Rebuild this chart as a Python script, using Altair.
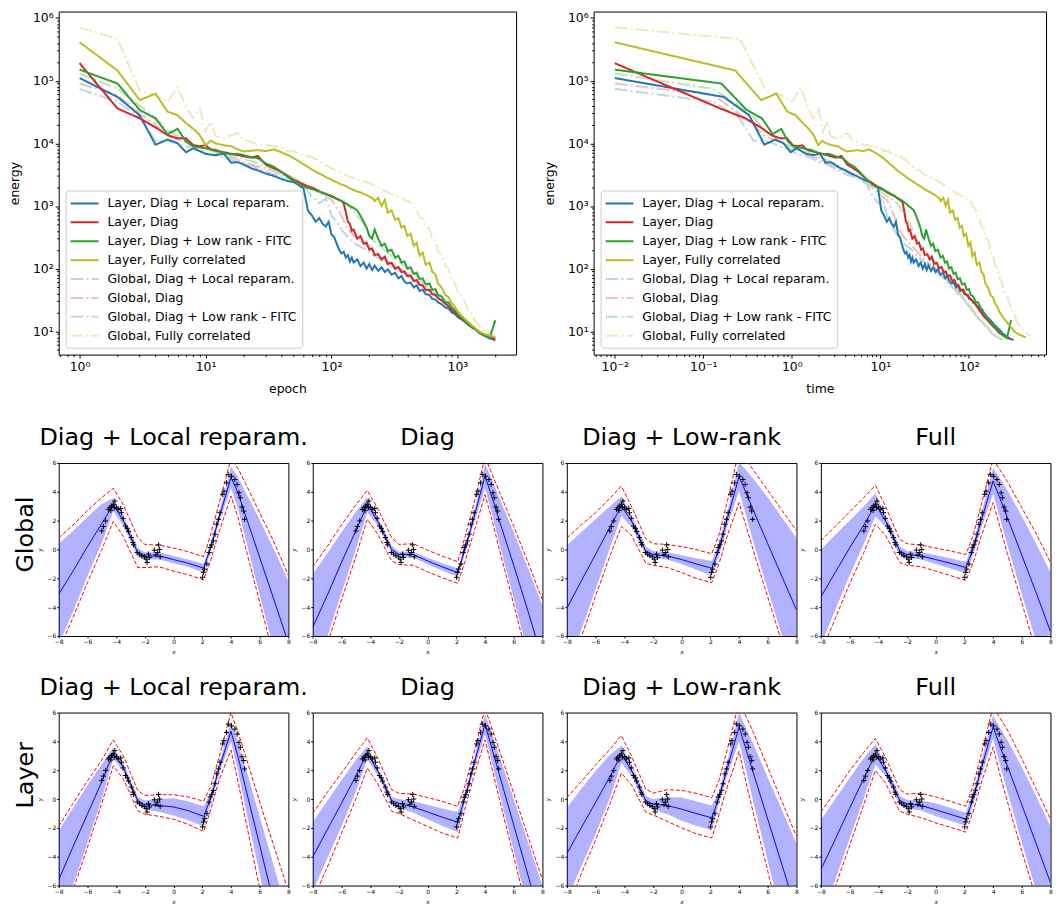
import altair as alt
import pandas as pd

FONT = "DejaVu Sans"

# ---------------- top panels: energy curves ----------------
EPOCHS = [1, 2, 3, 4, 5, 6, 7, 8, 9, 10,
          11, 12, 14, 16, 18, 20, 23, 26, 30, 35,
          40, 45, 50, 55, 60, 65, 70, 75, 80, 85,
          90, 95, 100, 105, 110, 115, 120, 125, 130, 135,
          140, 145, 150, 160, 170, 180, 190, 200, 210, 220,
          235, 250, 265, 280, 300, 320, 340, 360, 380, 400,
          425, 450, 475, 500, 530, 560, 600, 630, 670, 700,
          750, 800, 850, 900, 950, 1000, 1100, 1200, 1300, 1400,
          1500, 1650, 1800, 2000]

E_LAYER_LOCAL = [110000, 55000, 28000, 9500, 11500, 10000, 7200, 8300, 7500, 6800,
                 6600, 6500, 6800, 4900, 5000, 4600, 4000, 3700, 3300, 3000,
                 2700, 2500, 2400, 2150, 1900, 850, 700, 560, 640, 520,
                 470, 560, 350, 320, 250, 200, 175, 185, 150, 165,
                 130, 150, 125, 140, 110, 125, 100, 118, 95, 112,
                 92, 105, 88, 97, 80, 86, 70, 76, 62, 58,
                 60, 50, 54, 44, 46, 39, 38, 33, 32, 29,
                 27, 24, 23, 20, 19, 17, 15, 13, 11.5, 10.5,
                 9.3, 8.4, 7.7, 7.2]
E_LAYER_DIAG = [190000, 36000, 25000, 18000, 13500, 12000, 12000, 9300, 9000, 9300,
                8000, 7600, 7200, 6800, 6500, 6200, 5900, 6300, 4600, 4000,
                3500, 3000, 2600, 2400, 2200, 2050, 1950, 1850, 1700, 1620,
                1550, 1500, 1450, 1380, 1300, 1250, 1200, 1100, 800, 560,
                520, 400, 420, 300, 330, 250, 260, 200, 210, 165,
                170, 140, 155, 118, 124, 100, 106, 88, 90, 76,
                78, 63, 66, 55, 54, 45, 46, 39, 38, 34,
                31, 28, 25, 22, 20, 18, 15.5, 13.5, 12, 10.8,
                9.6, 8.7, 8.0, 7.6]
E_LAYER_FITC = [150000, 90000, 34000, 25000, 14000, 17000, 10600, 8900, 8600, 8300,
                8000, 7900, 7000, 6700, 6800, 6500, 6000, 5800, 4800, 4200,
                3500, 2900, 2500, 2200, 2050, 1950, 1850, 1780, 1700, 1620,
                1550, 1480, 1400, 1350, 1300, 1250, 1200, 1150, 1100, 1050,
                1000, 960, 930, 850, 700, 560, 450, 330, 300, 420,
                300, 230, 250, 190, 200, 150, 160, 125, 130, 100,
                105, 82, 86, 68, 70, 56, 58, 46, 47, 38,
                36, 29, 29, 24, 22, 19, 16, 13.5, 12, 10.8,
                9.6, 8.6, 7.8, 15]
E_LAYER_FULL = [410000, 145000, 49000, 62000, 32000, 28000, 21000, 17000, 13500, 9300,
                11000, 10000, 9300, 9000, 8000, 7400, 7600, 7800, 7500, 8000,
                7200, 6500, 5800, 5200, 4600, 4200, 3800, 3500, 3300, 3100,
                2900, 2750, 2600, 2500, 2400, 2300, 2200, 2150, 2050, 2000,
                1900, 1850, 1800, 1700, 1650, 1550, 1500, 1400, 1350, 1200,
                1350, 1000, 1250, 780, 850, 600, 640, 450, 480, 330,
                360, 230, 260, 160, 180, 115, 125, 90, 80, 58,
                50, 38, 35, 28, 25, 21, 17, 14.5, 12.5, 11,
                9.8, 9.0, 8.5, 8.0]
E_GLOBAL_LOCAL = [74000, 46000, 26000, 11000, 11000, 10000, 9000, 8500, 8000, 7000,
                  6600, 6400, 6000, 5500, 5000, 4800, 4400, 4000, 3600, 3200,
                  3000, 2800, 2600, 2400, 2200, 1700, 1400, 1250, 1100, 1200,
                  1300, 1000, 700, 620, 560, 480, 420, 380, 350, 320,
                  300, 280, 260, 240, 225, 210, 200, 185, 170, 160,
                  148, 135, 125, 118, 108, 100, 94, 88, 82, 77,
                  72, 66, 61, 57, 52, 48, 44, 40, 37, 34,
                  30, 27, 24.5, 22, 20, 18, 15.5, 13.5, 12, 10.8,
                  9.3, 8.5, 7.8, 7.2]
E_GLOBAL_DIAG = [90000, 59000, 30000, 20000, 13000, 11500, 10500, 9500, 9000, 8300,
                 7800, 7200, 6500, 6000, 5500, 5000, 4600, 4300, 4000, 3600,
                 3200, 3000, 2800, 2500, 2300, 2100, 1900, 1750, 1600, 1500,
                 1400, 1320, 1250, 1100, 950, 820, 700, 580, 480, 430,
                 400, 370, 340, 300, 270, 250, 230, 215, 200, 185,
                 165, 150, 140, 130, 120, 110, 102, 95, 88, 82,
                 76, 70, 65, 60, 55, 50, 46, 42, 38, 35,
                 31, 28, 25, 22, 20, 18, 15.5, 13.5, 12, 10.8,
                 9.5, 8.6, 7.9, 7.4]
E_GLOBAL_FITC = [130000, 74000, 40000, 26000, 16000, 13000, 11000, 9500, 9000, 8500,
                 8000, 7500, 7000, 6500, 6000, 5700, 5200, 4800, 4300, 3800,
                 3400, 3100, 2800, 2500, 2300, 2100, 2000, 1900, 1800, 1700,
                 1600, 1520, 1450, 1380, 1300, 1250, 1200, 1150, 1100, 1020,
                 950, 870, 800, 700, 600, 520, 450, 340, 300, 270,
                 240, 215, 195, 180, 160, 145, 132, 120, 110, 100,
                 91, 82, 75, 68, 61, 55, 50, 45, 41, 37,
                 33, 29, 26, 23, 21, 19, 16, 14, 12.2, 10.9,
                 9.5, 8.6, 7.9, 7.4]
E_GLOBAL_FULL = [710000, 460000, 70000, 59000, 46000, 79000, 38000, 25000, 36000, 15500,
                 22000, 13000, 12000, 13500, 14500, 11500, 10500, 9500, 9300, 9000,
                 8500, 7500, 7500, 6800, 6500, 6200, 6000, 5600, 5200, 4800,
                 4500, 4200, 4000, 3850, 3700, 3550, 3400, 3250, 3100, 3000,
                 2900, 2850, 2800, 2700, 2600, 2500, 2400, 2300, 2200, 2100,
                 2000, 1800, 1750, 1650, 1550, 1500, 1400, 1350, 1250, 1200,
                 1150, 950, 900, 650, 640, 460, 430, 300, 280, 190,
                 165, 110, 100, 66, 60, 43, 35, 23, 19, 14,
                 12, 10, 9.2, 8.5]

SERIES = ["Layer, Diag + Local reparam.", "Layer, Diag",
          "Layer, Diag + Low rank - FITC", "Layer, Fully correlated",
          "Global, Diag + Local reparam.", "Global, Diag",
          "Global, Diag + Low rank - FITC", "Global, Fully correlated"]
ENERGY = [E_LAYER_LOCAL, E_LAYER_DIAG, E_LAYER_FITC, E_LAYER_FULL,
          E_GLOBAL_LOCAL, E_GLOBAL_DIAG, E_GLOBAL_FITC, E_GLOBAL_FULL]
# tab colours; the "Global" runs are drawn at 30 % opacity on white
COLORS = ["#1f77b4", "#d62728", "#2ca02c", "#bcbd22",
          "#bcd6e8", "#f3bebe", "#c0e2c0", "#ebebbd"]
# wall-clock seconds per epoch of each run, and time of the first record
SEC_PER_EPOCH = [0.16, 0.145, 0.15, 0.22, 0.12, 0.12, 0.12, 0.25]
T0 = 0.01

rows = []
# faint "Global" runs first so that they sit underneath
for idx in [4, 5, 6, 7, 0, 1, 2, 3]:
    name, vals, rate = SERIES[idx], ENERGY[idx], SEC_PER_EPOCH[idx]
    for ep, e in zip(EPOCHS, vals):
        rows.append({"series": name, "epoch": ep, "time": T0 + rate * (ep - 1), "energy": e})
top_df = pd.DataFrame(rows)

SOLID = [1, 0]
DASHDOT = [12.8, 3.2, 2, 3.2]


def log_ticks(lo, hi):
    out = []
    for k in range(-3, 7):
        for m in range(1, 10):
            v = m * 10.0 ** k
            if lo <= v <= hi:
                out.append(v)
    return out


LOGV = "(log(datum.value)/LN10)"
MAJOR = f"abs({LOGV} - round({LOGV})) < 0.001"
SUP = "['\u207b\u00b2','\u207b\u00b9','\u2070','\u00b9','\u00b2','\u00b3','\u2074','\u2075','\u2076']"
LABEL_EXPR = f"{MAJOR} ? '10' + {SUP}[round({LOGV}) + 2] : ''"
TICK_SIZE = {"condition": {"test": f"!({MAJOR})", "value": 2}, "value": 3.5}

Y_DOM = [4.24, 1.268e6]


def log_axis(title, lo, hi, **kw):
    return alt.Axis(title=title, values=log_ticks(lo, hi), labelExpr=LABEL_EXPR,
                    tickSize=TICK_SIZE, labelFontSize=12.5, titleFontSize=12.5,
                    labelOverlap=False, labelFlush=False, labelPadding=2, **kw)


def energy_chart(xfield, xtitle, xdom):
    return alt.Chart(top_df).mark_line(strokeWidth=2).encode(
        x=alt.X(f"{xfield}:Q",
                scale=alt.Scale(type="log", domain=xdom, nice=False),
                axis=log_axis(xtitle, xdom[0], xdom[1], titleY=38, titleBaseline="alphabetic")),
        y=alt.Y("energy:Q",
                scale=alt.Scale(type="log", domain=Y_DOM, nice=False),
                axis=log_axis("energy", Y_DOM[0], Y_DOM[1], titleX=-44, titleBaseline="middle")),
        color=alt.Color("series:N", scale=alt.Scale(domain=SERIES, range=COLORS),
                        legend=alt.Legend(orient="bottom-left", offset=7, title=None,
                                          labelFontSize=12.5, labelFont=FONT, labelColor="black",
                                          symbolType="M-2,0L2,0", symbolSize=196, symbolStrokeWidth=2,
                                          symbolOffset=6, labelOffset=15, padding=5, rowPadding=4,
                                          strokeColor="#cccccc", fillColor="rgba(255,255,255,0.8)",
                                          cornerRadius=3, labelLimit=400)),
        strokeDash=alt.StrokeDash("series:N", scale=alt.Scale(domain=SERIES, range=[SOLID] * 4 + [DASHDOT] * 4)),
    )


left = energy_chart("epoch", "epoch", [0.6825, 2923]).properties(width=460, height=345)
right = energy_chart("time", "time", [0.00577, 746]).properties(width=455, height=345)
top_row = alt.hconcat(left, right, spacing=78, bounds="flush").resolve_scale(
    color="independent", strokeDash="independent")

# ---------------- bottom panels: regression fits ----------------
GRID_X = [-8, -7, -6, -5, -4.2, -3.5, -2.5, -2, -1, 0, 1, 2.1, 2.6, 3.2, 4.0, 4.5, 5, 6, 7, 8]

G_LOCAL_MEAN = [-3.1, -1.5, 0.2, 1.8, 3.1, 2.0, -0.2, -0.45, -0.45, -0.7, -0.95, -1.3, 0.2, 2.3, 5.0, 3.9, 2.4, -0.55, -3.5, -6.5]
G_LOCAL_BAND = [3.5, 2.8, 2.05, 1.35, 0.45, 0.35, 0.3, 0.25, 0.25, 0.25, 0.25, 0.3, 0.3, 0.35, 0.75, 1.1, 1.6, 2.6, 3.5, 4.3]
G_LOCAL_RED = [3.9, 3.2, 2.5, 1.8, 1.15, 1.1, 1.05, 0.8, 0.75, 0.8, 0.8, 0.8, 0.9, 1.0, 1.3, 1.7, 2.2, 3.1, 4.0, 4.7]

G_DIAG_MEAN = [-5.4, -3.2, -0.9, 1.3, 3.1, 2.0, 0.0, -0.35, -0.35, -0.8, -1.2, -1.6, 0.0, 2.1, 5.1, 3.6, 2.0, -1.1, -4.3, -7.6]
G_DIAG_BAND = [3.7, 2.9, 2.1, 1.3, 0.5, 0.3, 0.25, 0.2, 0.2, 0.22, 0.25, 0.3, 0.3, 0.35, 0.85, 1.2, 1.6, 2.3, 3.0, 3.7]
G_DIAG_RED = [4.2, 3.4, 2.6, 1.8, 1.0, 0.9, 0.8, 0.7, 0.75, 0.75, 0.75, 0.75, 0.85, 1.0, 1.3, 1.6, 2.0, 2.7, 3.4, 4.1]

G_FITC_MEAN = [-4.1, -2.2, -0.35, 1.55, 3.0, 2.0, -0.1, -0.35, -0.45, -0.7, -1.0, -1.3, 0.0, 2.2, 5.05, 3.9, 2.7, 0.4, -1.9, -4.2]
G_FITC_BAND = [4.4, 3.4, 2.45, 1.45, 0.7, 0.4, 0.3, 0.25, 0.25, 0.3, 0.4, 0.5, 0.45, 0.5, 1.0, 1.6, 2.2, 3.2, 4.1, 5.0]
G_FITC_RED = [4.9, 3.9, 2.9, 2.0, 1.4, 1.0, 0.85, 0.75, 0.8, 0.9, 1.0, 1.0, 1.0, 1.2, 1.8, 2.3, 2.8, 3.7, 4.6, 5.5]

G_FULL_MEAN = [-3.3, -1.6, 0.1, 1.7, 3.1, 2.0, -0.1, -0.35, -0.45, -0.7, -0.95, -1.25, 0.0, 2.1, 4.75, 3.5, 2.2, -0.4, -3.0, -5.7]
G_FULL_BAND = [3.3, 2.6, 1.9, 1.3, 0.8, 0.4, 0.3, 0.25, 0.25, 0.3, 0.35, 0.4, 0.4, 0.5, 0.9, 1.4, 1.9, 2.7, 3.4, 4.1]
G_FULL_RED = [3.9, 3.2, 2.5, 1.9, 1.35, 1.0, 0.8, 0.75, 0.75, 0.8, 0.85, 0.9, 0.95, 1.1, 1.5, 2.0, 2.5, 3.3, 4.1, 4.8]

L_LOCAL_MEAN = [-5.6, -3.3, -1.05, 1.2, 3.2, 2.2, -0.1, -0.4, -0.45, -0.55, -0.8, -1.2, 0.1, 2.2, 4.7, 2.9, 0.85, -3.2, -7.3, -11.4]
L_LOCAL_BAND = [3.4, 2.7, 2.0, 1.2, 0.4, 0.3, 0.25, 0.3, 0.45, 0.6, 0.65, 0.7, 0.35, 0.35, 0.7, 1.0, 1.4, 2.0, 2.6, 3.2]
L_LOCAL_RED = [3.7, 3.0, 2.3, 1.5, 0.9, 0.8, 0.7, 0.65, 0.75, 0.85, 0.95, 1.05, 0.8, 0.8, 1.3, 1.7, 2.2, 3.0, 4.0, 5.0]

L_DIAG_MEAN = [-4.0, -2.15, -0.3, 1.6, 3.2, 2.0, -0.1, -0.3, -0.55, -0.9, -1.25, -1.6, 0.1, 2.3, 5.2, 3.45, 1.7, -1.8, -5.3, -8.8]
L_DIAG_BAND = [2.4, 2.0, 1.6, 1.1, 0.45, 0.3, 0.25, 0.3, 0.4, 0.5, 0.6, 0.7, 0.35, 0.35, 0.7, 1.0, 1.3, 1.8, 2.3, 2.8]
L_DIAG_RED = [3.0, 2.6, 2.1, 1.6, 1.05, 0.9, 0.75, 0.7, 0.9, 1.0, 1.1, 1.1, 0.8, 0.8, 1.1, 1.4, 1.7, 2.2, 2.7, 3.2]

L_FITC_MEAN = [-3.8, -2.0, -0.25, 1.55, 3.1, 2.0, -0.1, -0.35, -0.45, -0.7, -1.0, -1.3, 0.1, 2.2, 5.0, 3.4, 1.8, -1.4, -4.6, -7.8]
L_FITC_BAND = [3.2, 2.7, 2.2, 1.5, 0.6, 0.4, 0.3, 0.35, 0.6, 0.8, 0.85, 0.85, 0.4, 0.5, 1.0, 1.5, 2.0, 2.9, 3.8, 4.7]
L_FITC_RED = [3.9, 3.2, 2.6, 1.9, 1.3, 1.0, 0.8, 0.75, 1.1, 1.3, 1.4, 1.4, 1.2, 1.3, 1.7, 2.3, 2.8, 3.6, 4.4, 5.2]

L_FULL_MEAN = [-4.9, -2.8, -0.65, 1.45, 3.1, 2.0, -0.1, -0.35, -0.45, -0.75, -1.05, -1.4, 0.0, 2.2, 5.0, 3.6, 2.3, -0.4, -3.1, -5.8]
L_FULL_BAND = [3.45, 2.8, 2.1, 1.4, 0.7, 0.4, 0.3, 0.3, 0.35, 0.45, 0.45, 0.45, 0.4, 0.5, 0.8, 1.3, 1.8, 2.6, 3.3, 3.9]
L_FULL_RED = [4.0, 3.3, 2.6, 1.8, 1.1, 0.9, 0.75, 0.7, 0.85, 0.9, 0.9, 0.9, 0.9, 1.0, 1.4, 2.0, 2.5, 3.2, 3.8, 4.4]

PTS_X = [-5.0, -4.89, -4.73, -4.54, -4.43, -4.32, -4.36, -4.2, -4.09, -4.13, -3.97, -3.86, -3.68, -3.63,
         -3.51, -3.35, -3.22, -3.13, -2.94, -2.83, -2.78, -2.53, -2.37, -2.21, -2.03, -1.91, -1.84,
         -1.75, -1.68, -1.34, -1.23, -1.11, -1.04, -0.97, -0.93,
         2.02, 2.09, 2.16, 2.32, 2.48, 2.55, 2.66, 2.78, 2.89, 3.01, 3.12, 3.24, 3.42, 3.51, 3.69,
         3.81, 4.04, 4.27, 4.43, 4.56, 4.65, 4.77, 4.88, 4.95]
PTS_Y = [1.29, 1.59, 1.98, 2.78, 2.90, 3.01, 2.71, 3.13, 3.36, 2.90, 2.94, 2.78, 2.85, 2.55,
         2.16, 1.63, 1.47, 1.24, 0.83, 0.48, 0.32, -0.21, -0.32, -0.44, -0.51, -0.67, -0.90,
         -0.32, -0.55, -0.05, -0.37, -0.21, 0.32, 0.0, -0.51,
         -1.93, -1.59, -1.36, -1.01, -0.21, 0.14, 0.32, 0.60, 1.06, 1.75, 2.09, 2.55, 3.82, 4.05, 4.62,
         5.20, 5.08, 4.85, 4.51, 3.93, 3.59, 2.94, 2.67, 2.09]
pts_df = pd.DataFrame({"x": PTS_X, "y": PTS_Y})

TITLES = ["Diag + Local reparam.", "Diag", "Diag + Low-rank", "Full"]
PANEL_W, PANEL_H = 231, 174

x_axis = alt.Axis(values=list(range(-8, 9, 2)), title="x", labelFontSize=6, tickSize=2, labelPadding=1,
                  titleFontSize=6, titleFontStyle="italic", titleY=16, titleBaseline="middle",
                  labelFlush=False)
y_axis = alt.Axis(values=list(range(-6, 7, 2)), title="y", labelFontSize=6, tickSize=2, labelPadding=1,
                  titleFontSize=6, titleFontStyle="italic", titleX=-19, titleBaseline="middle",
                  labelFlush=False)
XS = alt.Scale(domain=[-8, 8], nice=False, zero=False)
YS = alt.Scale(domain=[-6, 6], nice=False, zero=False)


def panel(title, mean, band, red, row_label=None, label_y=0):
    df = pd.DataFrame({
        "x": GRID_X, "mean": mean,
        "lo": [m - b for m, b in zip(mean, band)], "hi": [m + b for m, b in zip(mean, band)],
        "rlo": [m - r for m, r in zip(mean, red)], "rhi": [m + r for m, r in zip(mean, red)],
    })
    X = alt.X("x:Q", scale=XS, axis=x_axis)
    base = alt.Chart(df)
    area = base.mark_area(color="#0000ff", opacity=0.3, clip=True).encode(
        x=X, y=alt.Y("lo:Q", scale=YS, axis=y_axis), y2="hi:Q")
    rlo = base.mark_line(color="#ff0000", strokeWidth=1, strokeDash=[4, 2], clip=True).encode(
        x=X, y=alt.Y("rlo:Q", scale=YS, axis=y_axis))
    rhi = base.mark_line(color="#ff0000", strokeWidth=1, strokeDash=[4, 2], clip=True).encode(
        x=X, y=alt.Y("rhi:Q", scale=YS, axis=y_axis))
    mline = base.mark_line(color="#0000ff", strokeWidth=1, clip=True).encode(
        x=X, y=alt.Y("mean:Q", scale=YS, axis=y_axis))
    pts = alt.Chart(pts_df).mark_point(shape="M-1,0L1,0M0,-1L0,1", size=28, color="black",
                                       strokeWidth=1, filled=False, opacity=1).encode(
        x=X, y=alt.Y("y:Q", scale=YS, axis=y_axis))
    ttl = alt.Chart(pd.DataFrame({"t": [title]})).mark_text(
        fontSize=24, font=FONT, color="black", baseline="alphabetic", align="center").encode(
        text="t:N", x=alt.value(PANEL_W / 2), y=alt.value(-18))
    layers = [area, rlo, rhi, mline, pts, ttl]
    if row_label:
        lab = alt.Chart(pd.DataFrame({"t": [row_label]})).mark_text(
            angle=270, fontSize=24, font=FONT, color="black", baseline="middle", align="center").encode(
            text="t:N", x=alt.value(-33), y=alt.value(label_y))
        layers.append(lab)
    return alt.layer(*layers).properties(width=PANEL_W, height=PANEL_H)


G_SETS = [(G_LOCAL_MEAN, G_LOCAL_BAND, G_LOCAL_RED), (G_DIAG_MEAN, G_DIAG_BAND, G_DIAG_RED),
          (G_FITC_MEAN, G_FITC_BAND, G_FITC_RED), (G_FULL_MEAN, G_FULL_BAND, G_FULL_RED)]
L_SETS = [(L_LOCAL_MEAN, L_LOCAL_BAND, L_LOCAL_RED), (L_DIAG_MEAN, L_DIAG_BAND, L_DIAG_RED),
          (L_FITC_MEAN, L_FITC_BAND, L_FITC_RED), (L_FULL_MEAN, L_FULL_BAND, L_FULL_RED)]

row1 = alt.hconcat(*[panel(t, *s, row_label=("Global" if i == 0 else None), label_y=72)
                     for i, (t, s) in enumerate(zip(TITLES, G_SETS))], spacing=24.5, bounds="flush")
row2 = alt.hconcat(*[panel(t, *s, row_label=("Layer" if i == 0 else None), label_y=63)
                     for i, (t, s) in enumerate(zip(TITLES, L_SETS))], spacing=24.5, bounds="flush")

bottom = alt.vconcat(row1, row2, spacing=19)
chart = alt.vconcat(top_row, bottom, spacing=30).properties(
    padding={"left": 0, "top": 0, "right": 0, "bottom": 0}).configure(
    font=FONT).configure_view(stroke="black", strokeWidth=1).configure_axis(
    labelFont=FONT, titleFont=FONT, labelColor="black", titleColor="black", tickColor="black",
    domain=False, grid=False, titleFontWeight="normal")

chart.save("out.html", embed_options={"renderer": "svg", "actions": False})
